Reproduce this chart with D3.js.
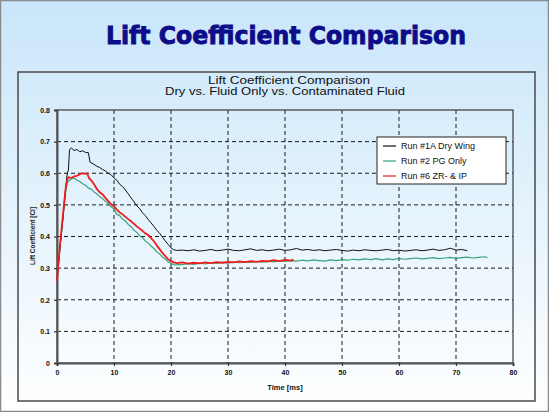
<!DOCTYPE html>
<html><head><meta charset="utf-8">
<script src="https://cdn.jsdelivr.net/npm/d3@7"></script>
<style>html,body{margin:0;padding:0;background:#fff}svg{display:block}</style>
</head><body>
<script>
const mainTitle = "Lift Coefficient Comparison";
const subTitle = ["Lift Coefficient Comparison", "Dry vs. Fluid Only vs. Contaminated Fluid"];
const xLabel = "Time [ms]";
const yLabel = "Lift Coefficient [Cl]";
const xTicks = [0,10,20,30,40,50,60,70,80];
const yTicks = [0,0.1,0.2,0.3,0.4,0.5,0.6,0.7,0.8];
const seriesNames = ["Run #1A Dry Wing", "Run #2 PG Only", "Run #6 ZR- & IP"];
const seriesColors = ["#111111", "#3aa27a", "#ee1c1c"];

const run1A = [[0,0.26],[0.5,0.36],[1,0.45],[1.5,0.55],[1.8,0.6],[2.0,0.61],[2.2,0.675],[2.5,0.68],[3,0.672],[3.5,0.675],[4,0.668],[4.5,0.671],[5,0.666],[5.5,0.665],[5.8,0.635],[6.5,0.628],[7,0.622],[7.5,0.618],[8,0.612],[8.5,0.607],[9,0.6],[9.5,0.595],[10,0.585],[10.5,0.578],[11,0.565],[11.5,0.558],[12,0.547],[12.5,0.535],[13,0.522],[13.5,0.51],[14,0.497],[14.5,0.488],[15,0.475],[15.5,0.466],[16,0.454],[16.5,0.443],[17,0.432],[17.5,0.42],[18,0.41],[18.5,0.398],[19,0.386],[19.5,0.375],[20,0.364],[20.5,0.358],[21,0.356],[22,0.357],[23,0.355],[24,0.358],[25,0.354],[26,0.356],[27,0.359],[28,0.355],[29,0.357],[30,0.36],[31,0.356],[32,0.355],[33,0.358],[34,0.361],[35,0.356],[36,0.358],[37,0.355],[38,0.357],[39,0.36],[40,0.356],[41,0.358],[42,0.362],[43,0.357],[44,0.359],[45,0.356],[46,0.358],[47,0.355],[48,0.357],[49,0.359],[50,0.356],[51,0.354],[52,0.357],[53,0.355],[54,0.358],[55,0.356],[56,0.355],[57,0.357],[58,0.359],[59,0.355],[60,0.357],[61,0.354],[62,0.356],[63,0.358],[64,0.355],[65,0.357],[66,0.36],[67,0.356],[68,0.358],[69,0.363],[70,0.357],[71,0.359],[72,0.355]];

const run2 = [[0,0.26],[0.5,0.36],[1,0.45],[1.5,0.54],[1.8,0.57],[2,0.575],[2.5,0.582],[3,0.585],[3.5,0.578],[4,0.574],[4.5,0.567],[5,0.562],[5.5,0.553],[6,0.55],[6.5,0.541],[7,0.535],[7.5,0.526],[8,0.52],[8.5,0.511],[9,0.505],[9.5,0.494],[10,0.487],[10.5,0.47],[11,0.466],[11.5,0.455],[12,0.449],[12.5,0.438],[13,0.431],[13.5,0.42],[14,0.413],[14.5,0.402],[15,0.396],[15.5,0.386],[16,0.379],[16.5,0.37],[17,0.362],[17.5,0.352],[18,0.345],[18.5,0.335],[19,0.329],[19.5,0.32],[20,0.315],[20.5,0.311],[21,0.31],[21.5,0.312],[22,0.311],[23,0.314],[24,0.312],[25,0.316],[26,0.313],[27,0.317],[28,0.315],[29,0.318],[30,0.316],[31,0.319],[32,0.317],[33,0.32],[34,0.318],[35,0.321],[36,0.319],[37,0.322],[38,0.32],[39,0.323],[40,0.321],[41,0.324],[42,0.322],[43,0.325],[44,0.323],[45,0.326],[46,0.324],[47,0.322],[48,0.326],[49,0.324],[50,0.327],[51,0.325],[52,0.328],[53,0.326],[54,0.329],[55,0.327],[56,0.33],[57,0.326],[58,0.329],[59,0.327],[60,0.331],[61,0.328],[62,0.33],[63,0.332],[64,0.329],[65,0.331],[66,0.333],[67,0.33],[68,0.332],[69,0.334],[70,0.331],[71,0.333],[72,0.335],[73,0.332],[74,0.334],[75,0.336],[75.5,0.333]];

const run6 = [[0,0.26],[0.5,0.37],[1,0.46],[1.5,0.55],[1.8,0.58],[2,0.588],[2.5,0.585],[3,0.59],[3.5,0.592],[4,0.597],[4.5,0.6],[5,0.598],[5.3,0.6],[5.6,0.585],[6,0.578],[6.5,0.565],[7,0.55],[7.5,0.54],[8,0.533],[8.5,0.522],[9,0.512],[9.5,0.502],[10,0.495],[10.5,0.485],[11,0.476],[11.5,0.47],[12,0.462],[12.5,0.455],[13,0.448],[13.5,0.44],[14,0.432],[14.5,0.425],[15,0.418],[15.5,0.41],[16,0.405],[16.5,0.395],[17,0.385],[17.5,0.372],[18,0.36],[18.5,0.348],[19,0.338],[19.5,0.328],[20,0.322],[20.5,0.318],[21,0.316],[22,0.318],[23,0.314],[24,0.317],[25,0.315],[26,0.318],[27,0.316],[28,0.319],[29,0.317],[30,0.32],[31,0.318],[32,0.321],[33,0.319],[34,0.322],[35,0.32],[36,0.323],[37,0.321],[38,0.325],[39,0.322],[40,0.326],[41,0.324],[41.5,0.327]];

const W = 549, H = 412;
const svg = d3.select("body").append("svg").attr("width", W).attr("height", H);
const defs = svg.append("defs");
const grad = defs.append("linearGradient").attr("id","bg").attr("x1",0).attr("y1",0).attr("x2",0).attr("y2",1);
grad.append("stop").attr("offset","0%").attr("stop-color","#c9e6fa");
grad.append("stop").attr("offset","100%").attr("stop-color","#ffffff");

svg.append("rect").attr("x",0.5).attr("y",0.5).attr("width",W-1).attr("height",H-1)
  .attr("fill","url(#bg)").attr("stroke","#8a8a8a").attr("stroke-width",1.5);

svg.append("text").attr("x",286).attr("y",44).attr("text-anchor","middle")
  .attr("font-family","'DejaVu Sans', sans-serif").attr("font-weight","bold").attr("font-size",24)
  .attr("fill","#0d0d8a").attr("stroke","#0d0d8a").attr("stroke-width",0.9)
  .attr("textLength",360).attr("lengthAdjust","spacingAndGlyphs").text(mainTitle);

// chart box
svg.append("rect").attr("x",18).attr("y",72).attr("width",517).attr("height",329)
  .attr("fill","none").attr("stroke","#4a4a4a").attr("stroke-width",1.5);

const sub = svg.append("g").attr("font-family","'Liberation Sans', Arial, sans-serif").attr("font-size",10.5).attr("fill","#111").attr("text-anchor","middle");
sub.append("text").attr("x",289).attr("y",84).attr("textLength",162).attr("lengthAdjust","spacingAndGlyphs").text(subTitle[0]);
sub.append("text").attr("x",285).attr("y",95).attr("textLength",240).attr("lengthAdjust","spacingAndGlyphs").text(subTitle[1]);

const x = d3.scaleLinear().domain([0,80]).range([57,513]);
const y = d3.scaleLinear().domain([0,0.8]).range([363,110]);

// gridlines
const grid = svg.append("g").attr("stroke","#1a1a1a").attr("stroke-width",1).attr("stroke-dasharray","4,3");
grid.selectAll("line.v").data(xTicks.filter(d=>d>0&&d<80)).join("line")
  .attr("x1",d=>x(d)).attr("x2",d=>x(d)).attr("y1",y(0.8)).attr("y2",y(0));
grid.selectAll("line.h").data(yTicks.filter(d=>d>0&&d<0.8)).join("line")
  .attr("x1",x(0)).attr("x2",x(80)).attr("y1",d=>y(d)).attr("y2",d=>y(d));

// frame
svg.append("rect").attr("x",x(0)).attr("y",y(0.8)).attr("width",x(80)-x(0)).attr("height",y(0)-y(0.8))
  .attr("fill","none").attr("stroke","#3a3a3a").attr("stroke-width",1.2);

// axes
const yAxis = svg.append("g").attr("transform",`translate(${x(0)},0)`)
  .call(d3.axisLeft(y).tickValues(yTicks).tickSize(3).tickPadding(4).tickFormat(d=>d===0?"0":d3.format(".1f")(d)));
const xAxis = svg.append("g").attr("transform",`translate(0,${y(0)})`)
  .call(d3.axisBottom(x).tickValues(xTicks).tickSize(3).tickPadding(4).tickFormat(d3.format("d")));
[yAxis,xAxis].forEach(a=>{
  a.select(".domain").attr("stroke","#555").attr("stroke-width",2);
  a.selectAll(".tick line").attr("stroke","#333").attr("stroke-width",1.2);
  a.selectAll(".tick text").attr("font-family","'Liberation Sans', Arial, sans-serif").attr("font-weight","bold").attr("font-size",7).attr("fill","#111");
});

svg.append("text").attr("transform",`translate(35,236) rotate(-90)`).attr("text-anchor","middle")
  .attr("font-family","'Liberation Sans', Arial, sans-serif").attr("font-size",6.5).attr("font-weight","bold").attr("fill","#222").text(yLabel);
svg.append("text").attr("x",285).attr("y",390).attr("text-anchor","middle")
  .attr("font-family","'Liberation Sans', Arial, sans-serif").attr("font-size",7.5).attr("font-weight","bold").attr("fill","#111").text(xLabel);

// series
const line = d3.line().x(d=>x(d[0])).y(d=>y(d[1]));
const series = [run1A, run2, run6];
const widths = [1, 1.2, 1.8];
const order = [1,0,2];
order.forEach(i=>{
  svg.append("path").datum(series[i]).attr("d",line).attr("fill","none")
    .attr("stroke",seriesColors[i]).attr("stroke-width",widths[i]).attr("stroke-linejoin","round");
});

// legend
const lg = svg.append("g");
lg.append("rect").attr("x",377).attr("y",137).attr("width",129).attr("height",47).attr("fill","#fff").attr("stroke","#222").attr("stroke-width",1);
seriesNames.forEach((n,i)=>{
  const yy = 146 + i*15;
  lg.append("line").attr("x1",383).attr("x2",396).attr("y1",yy).attr("y2",yy).attr("stroke",seriesColors[i]).attr("stroke-width",1.2);
  lg.append("text").attr("x",401).attr("y",yy+3.2).attr("font-family","'Liberation Sans', Arial, sans-serif").attr("font-size",9).attr("fill","#111").text(n);
});
</script>
</body></html>
